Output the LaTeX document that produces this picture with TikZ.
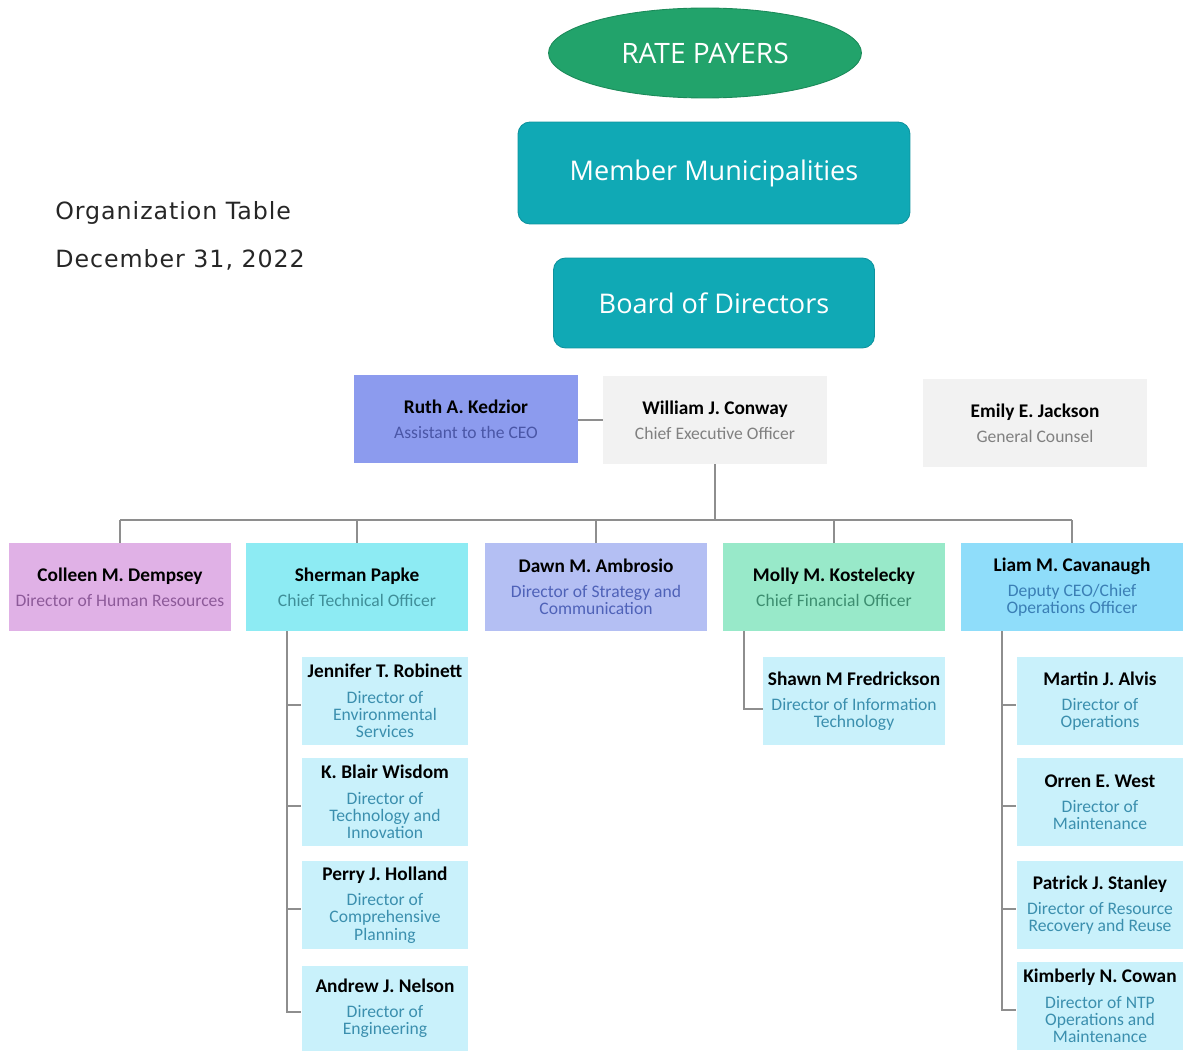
\documentclass[tikz,border=0pt]{standalone}
\usepackage{fontspec}
\setmainfont{Carlito}
\newfontfamily\headfont{Open Sans}
\newfontfamily\datefont[LetterSpace=4]{DejaVu Sans}
\usetikzlibrary{positioning, shapes.geometric, calc}
\definecolor{payergreen}{HTML}{22A36B}
\definecolor{payeredge}{HTML}{1B8A59}
\definecolor{boardteal}{HTML}{10A9B5}
\definecolor{boardedge}{HTML}{0E939E}
\definecolor{aidefill}{HTML}{8C9BEE}
\definecolor{aidetext}{HTML}{4A56A6}
\definecolor{ceofill}{HTML}{F2F2F2}
\definecolor{ceotext}{HTML}{808080}
\definecolor{hrfill}{HTML}{E0B1E6}
\definecolor{hrtext}{HTML}{8D5A99}
\definecolor{ctofill}{HTML}{8DEBF3}
\definecolor{ctotext}{HTML}{3F8E98}
\definecolor{stratfill}{HTML}{B4BFF3}
\definecolor{strattext}{HTML}{4F62B8}
\definecolor{cfofill}{HTML}{98E9C9}
\definecolor{cfotext}{HTML}{3D8E70}
\definecolor{coofill}{HTML}{8FDDFA}
\definecolor{cootext}{HTML}{3B7FB5}
\definecolor{subfill}{HTML}{C9F1FB}
\definecolor{subtext}{HTML}{3B8FAE}
\definecolor{linegray}{HTML}{8E8E8E}
\newcommand{\who}[2]{\textcolor{black}{\fontsize{11}{12}\selectfont\bfseries #1}\\[4.5pt]#2}

\begin{document}
\begin{tikzpicture}[x=0.02cm, y=-0.02cm,
    bigbox/.style={rectangle, rounded corners=0.24cm, fill=boardteal, draw=boardedge, line width=0.5pt,
      text=white, font=\headfont\fontsize{15.4}{18}\selectfont, inner sep=0pt},
    topbox/.style={rectangle, minimum width=4.46cm, minimum height=1.76cm, inner sep=0pt, align=center,
      font=\fontsize{10}{9.8}\selectfont},
    subbox/.style={topbox, fill=subfill, text=subtext, minimum width=3.34cm},
    link/.style={draw=linegray, line width=0.8pt}]
  \useasboundingbox (0,0) rectangle (1187,1051);

  % governance
  \node[ellipse, fill=payergreen, draw=payeredge, line width=0.5pt, minimum width=6.26cm, minimum height=1.8cm,
    inner sep=0pt, text=white, font=\headfont\fontsize{16}{18}\selectfont] (payers) at (705,53) {RATE PAYERS};
  \node[bigbox, minimum width=7.84cm, minimum height=2.04cm] (members) at (714,173) {Member Municipalities};
  \node[bigbox, minimum width=6.42cm, minimum height=1.8cm] (board) at (714,303) {Board of Directors};

  \node[anchor=west, inner sep=0pt, font=\datefont\fontsize{13.5}{15}\selectfont, text=black!85] (title) at (55,213) {Organization Table};
  \node[anchor=west, inner sep=0pt, font=\datefont\fontsize{13.5}{15}\selectfont, text=black!85] (date) at (55,260) {December 31, 2022};

  % executive level
  \node[topbox, fill=aidefill, text=aidetext, minimum width=4.48cm] (aide) at (466,419) {\who{Ruth A. Kedzior}{Assistant to the CEO}};
  \node[topbox, fill=ceofill, text=ceotext, minimum width=4.48cm] (ceo) at (715,420) {\who{William J. Conway}{Chief Executive Officer}};
  \node[topbox, fill=ceofill, text=ceotext, minimum width=4.48cm] (counsel) at (1035,423) {\who{Emily E. Jackson}{General Counsel}};

  % direct reports
  \node[topbox, fill=hrfill, text=hrtext] (hr) at (120,587) {\who{Colleen M. Dempsey}{Director of Human Resources}};
  \node[topbox, fill=ctofill, text=ctotext] (cto) at (357,587) {\who{Sherman Papke}{Chief Technical Officer}};
  \node[topbox, fill=stratfill, text=strattext] (strat) at (596,587) {\who{Dawn M. Ambrosio}{Director of Strategy and\\Communication}};
  \node[topbox, fill=cfofill, text=cfotext] (cfo) at (834,587) {\who{Molly M. Kostelecky}{Chief Financial Officer}};
  \node[topbox, fill=coofill, text=cootext] (coo) at (1072,587) {\who{Liam M. Cavanaugh}{Deputy CEO/Chief\\Operations Officer}};

  % under the CTO
  \node[subbox] (env) at (385,701) {\who{Jennifer T. Robinett}{Director of\\Environmental\\Services}};
  \node[subbox] (tech) at (385,802) {\who{K. Blair Wisdom}{Director of\\Technology and\\Innovation}};
  \node[subbox] (plan) at (385,905) {\who{Perry J. Holland}{Director of\\Comprehensive\\Planning}};
  \node[subbox, minimum height=1.7cm] (eng) at (385,1008) {\who{Andrew J. Nelson}{Director of\\Engineering}};

  % under the CFO
  \node[subbox, minimum width=3.64cm] (it) at (854,701) {\who{Shawn M Fredrickson}{Director of Information\\Technology}};

  % under the COO
  \node[subbox] (ops) at (1100,701) {\who{Martin J. Alvis}{Director of\\Operations}};
  \node[subbox] (maint) at (1100,802) {\who{Orren E. West}{Director of\\Maintenance}};
  \node[subbox] (reuse) at (1100,905) {\who{Patrick J. Stanley}{Director of Resource\\Recovery and Reuse}};
  \node[subbox] (ntp) at (1100,1006) {\who{Kimberly N. Cowan}{Director of NTP\\Operations and\\Maintenance}};

  % connectors
  \coordinate (bus) at (715,520);
  \draw[link] (aide.east |- ceo.west) -- (ceo.west);
  \draw[link] (ceo.south) -- (bus);
  \draw[link] (bus -| hr.north) -- (bus -| coo.north);
  \foreach \n in {hr,cto,strat,cfo,coo}
    \draw[link] (bus -| \n.north) -- (\n.north);
  \foreach \n in {env,tech,plan,eng}
    \draw[link] ([xshift=-1.4cm]cto.south) |- ([yshift=-0.08cm]\n.west);
  \draw[link] ([xshift=-1.8cm]cfo.south) |- ([yshift=-0.16cm]it.west);
  \foreach \n in {ops,maint,reuse,ntp}
    \draw[link] ([xshift=-1.4cm]coo.south) |- ([yshift=-0.08cm]\n.west);
\end{tikzpicture}
\end{document}
